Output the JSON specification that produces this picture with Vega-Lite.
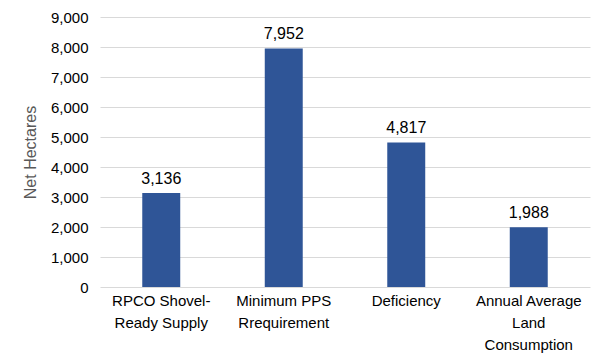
{
  "$schema": "https://vega.github.io/schema/vega-lite/v6.json",
  "width": 490,
  "height": 270,
  "autosize": {"type": "none"},
  "padding": {"left": 100, "top": 17, "right": 1, "bottom": 67},
  "background": "white",
  "config": {
    "view": {"stroke": null},
    "font": "Liberation Sans"
  },
  "data": {
    "values": [
      {"category": "RPCO Shovel-|Ready Supply", "value": 3136},
      {"category": "Minimum PPS|Rrequirement", "value": 7952},
      {"category": "Deficiency", "value": 4817},
      {"category": "Annual Average|Land|Consumption", "value": 1988}
    ]
  },
  "encoding": {
    "x": {
      "field": "category",
      "type": "nominal",
      "sort": null,
      "scale": {"paddingInner": 0.69, "paddingOuter": 0.345},
      "axis": {
        "title": null,
        "labelAngle": 0,
        "labelExpr": "split(datum.value, '|')",
        "labelFontSize": 15,
        "labelColor": "#000000",
        "labelLineHeight": 22,
        "labelPadding": 6,
        "ticks": false,
        "domain": false,
        "labelFont": "Liberation Sans"
      }
    },
    "y": {
      "field": "value",
      "type": "quantitative",
      "scale": {"domain": [0, 9000]},
      "axis": {
        "title": "Net Hectares",
        "titleColor": "#595959",
        "titleFontWeight": "normal",
        "titleFontSize": 16,
        "titlePadding": 12,
        "titleFont": "Liberation Sans",
        "values": [0, 1000, 2000, 3000, 4000, 5000, 6000, 7000, 8000, 9000],
        "format": ",.0f",
        "labelFontSize": 15,
        "labelColor": "#000000",
        "labelPadding": 12,
        "labelFont": "Liberation Sans",
        "ticks": false,
        "domain": false,
        "grid": true,
        "gridColor": "#D9D9D9",
        "gridWidth": 1
      }
    }
  },
  "layer": [
    {"mark": {"type": "bar", "color": "#2F5597"}},
    {
      "mark": {"type": "text", "baseline": "bottom", "dy": -6, "fontSize": 16, "color": "#000000", "font": "Liberation Sans"},
      "encoding": {"text": {"field": "value", "type": "quantitative", "format": ",.0f"}}
    }
  ]
}
